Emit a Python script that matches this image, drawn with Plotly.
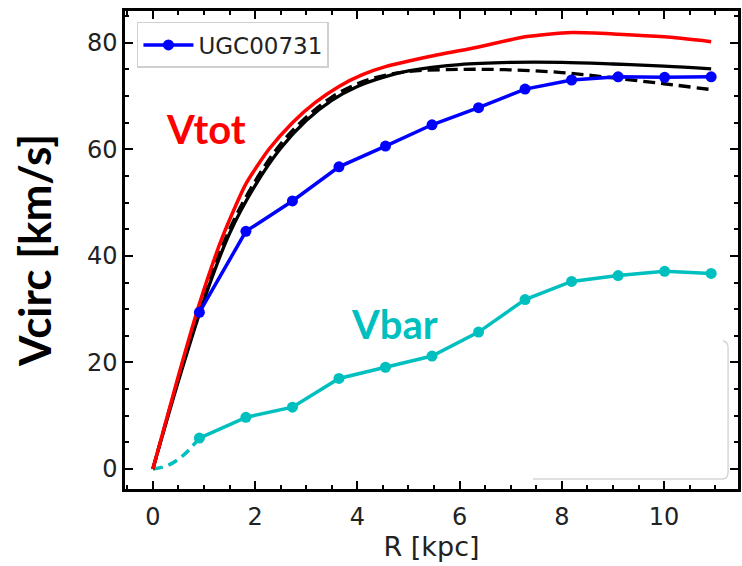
import plotly.graph_objects as go

# Data
r_obs = [0.91, 1.82, 2.73, 3.64, 4.55, 5.46, 6.37, 7.28, 8.19, 9.10, 10.01, 10.92]
v_obs = [29.4, 44.6, 50.3, 56.7, 60.6, 64.6, 67.8, 71.3, 73.0, 73.6, 73.5, 73.6]
v_bar = [5.8, 9.7, 11.6, 17.0, 19.1, 21.2, 25.7, 31.8, 35.2, 36.3, 37.1, 36.7]

r_bar_inner = [0.0, 0.3, 0.6, 0.91]
v_bar_inner = [0.0, 0.7, 2.6, 5.8]

r_tot = [0.0, 0.5, 0.91, 1.36, 1.82, 2.27, 2.73, 3.18, 3.64, 4.10, 4.55, 5.46, 6.37, 7.28, 8.19, 9.10, 10.01, 10.92]
v_tot = [0.0, 17.5, 31.0, 43.5, 53.5, 60.0, 65.0, 68.8, 71.8, 74.0, 75.5, 77.5, 79.2, 81.1, 81.9, 81.6, 81.1, 80.2]

r_mod = [0.0, 0.5, 1.0, 1.5, 2.0, 2.5, 3.0, 3.5, 4.0, 4.5, 5.0, 6.0, 7.0, 8.0, 9.0, 10.0, 10.92]
v_halo_solid = [0.0, 16.5, 31.7, 44.2, 53.2, 60.2, 65.4, 69.2, 71.8, 73.5, 74.7, 75.9, 76.3, 76.3, 76.0, 75.6, 75.1]
v_halo_dash = [0.0, 17.0, 32.5, 45.0, 54.0, 61.0, 66.0, 69.8, 72.3, 73.8, 74.6, 75.0, 74.9, 74.4, 73.4, 72.3, 71.2]

CYAN = "#00BFBF"

fig = go.Figure()
fig.add_trace(go.Scatter(x=r_bar_inner, y=v_bar_inner, mode="lines", line=dict(color=CYAN, width=3.5, dash="10px,6px", shape="spline"), showlegend=False))
fig.add_trace(go.Scatter(x=r_obs, y=v_bar, mode="lines+markers", line=dict(color=CYAN, width=3.5), marker=dict(size=11, color=CYAN), showlegend=False))
fig.add_trace(go.Scatter(x=r_mod, y=v_halo_dash, mode="lines", line=dict(color="black", width=3.3, dash="12px,6px", shape="spline"), showlegend=False))
fig.add_trace(go.Scatter(x=r_mod, y=v_halo_solid, mode="lines", line=dict(color="black", width=3.3, shape="spline"), showlegend=False))
fig.add_trace(go.Scatter(x=r_tot, y=v_tot, mode="lines", line=dict(color="red", width=3.5, shape="spline", smoothing=0.6), showlegend=False))
fig.add_trace(go.Scatter(x=r_obs, y=v_obs, mode="lines+markers", name="UGC00731", line=dict(color="blue", width=3.5), marker=dict(size=11, color="blue"), showlegend=True))

fig.add_annotation(x=1.03, y=63.9, text="<b>Vtot</b>", showarrow=False, font=dict(family="Lato", size=40, color="red"))
fig.add_annotation(x=4.72, y=27.3, text="<b>Vbar</b>", showarrow=False, font=dict(family="Lato", size=40, color=CYAN))

# faint empty box in the lower right
fig.add_shape(type="path", xref="paper", yref="paper",
              path="M 0.6656 0.0209 L 0.975 0.0209 Q 0.9838 0.0209 0.9838 0.036 L 0.9838 0.294 Q 0.9838 0.3096 0.975 0.3096",
              line=dict(color="#d6d6d6", width=1.5))

axis_common = dict(showgrid=False, zeroline=False, showline=True, linecolor="black", linewidth=2.5,
                   mirror="allticks", ticks="inside", ticklen=8, tickwidth=1.8, tickcolor="black",
                   tickfont=dict(family="DejaVu Sans", size=24, color="#222222"))

fig.update_xaxes(range=[-0.545, 11.445], tick0=0, dtick=2, ticklabelstandoff=4,
                 minor=dict(dtick=0.5, ticks="inside", ticklen=4, tickwidth=1.5, tickcolor="black"),
                 title=dict(text="R [kpc]", font=dict(family="DejaVu Sans", size=27, color="#222222"), standoff=8),
                 **axis_common)
fig.update_yaxes(range=[-3.75, 85.95], tick0=0, dtick=20,
                 minor=dict(dtick=5, ticks="inside", ticklen=4, tickwidth=1.5, tickcolor="black"),
                 title=dict(text="<b>Vcirc [km/s]</b>", font=dict(family="Lato", size=44, color="black"), standoff=22),
                 **axis_common)

fig.update_layout(width=742, height=566, margin=dict(l=125, r=1, t=11, b=77),
                  plot_bgcolor="white", paper_bgcolor="white",
                  legend=dict(x=0.0195, y=0.977, xanchor="left", yanchor="top", itemwidth=50,
                              bordercolor="#d0d0d0", borderwidth=1.5, bgcolor="rgba(255,255,255,0.8)",
                              font=dict(family="DejaVu Sans", size=23, color="#222222")))

fig.write_html("out.html")
